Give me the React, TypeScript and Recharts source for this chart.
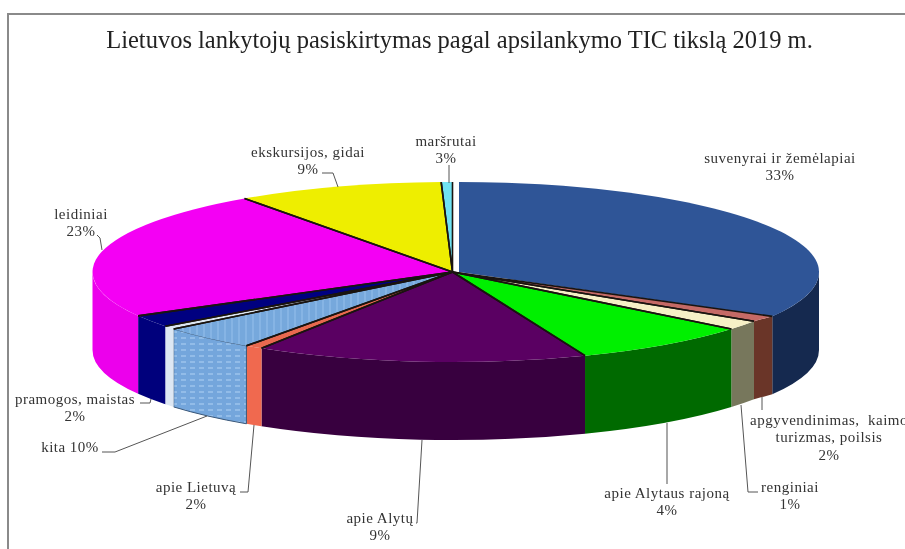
import React from "react";
import { PieChart, Pie } from "recharts";

const TITLE = "Lietuvos lankytojų pasiskirtymas pagal apsilankymo TIC tikslą 2019 m.";

// slice order runs clockwise from the top of the pie
const categories = [
  "suvenyrai ir žemėlapiai",
  "apgyvendinimas,  kaimo\nturizmas, poilsis",
  "renginiai",
  "apie Alytaus rajoną",
  "apie Alytų",
  "apie Lietuvą",
  "kita",
  "",
  "pramogos, maistas",
  "leidiniai",
  "ekskursijos, gidai",
  "maršrutai",
];
// share of the drawn circle
const drawnShares = [33.2, 1, 1.7, 8.1, 14.9, 0.8, 4.4, 0.6, 2.2, 23.3, 9.3, 0.5];
// percentages as printed in the labels
const printedPercents = ["33%", "2%", "1%", "4%", "9%", "2%", "10%", "", "2%", "23%", "9%", "3%"];

const topColors = [
  "#2f5597", "#c56a66", "#f6f0c6", "#00f000", "#5a0062", "#e8694f",
  "url(#kitaTop)", "#dde7f3", "#000080", "#f400f4", "#eeee00", "#70e2f2",
];
const wallColors = [
  "#15294f", "#6a3528", "#77775c", "#006a00", "#38003f", "#f0694f",
  "url(#kitaWall)", "#dde7f3", "#00007c", "#ec00ec", "#eeee00", "#70e2f2",
];

const labelLayout = [
  { x: 780, y: 163, leader: "" },
  { x: 829, y: 425, leader: "762,397 762,410" },
  { x: 790, y: 492, leader: "758,492 748,492 741,405" },
  { x: 667, y: 498, leader: "667,484 667,423" },
  { x: 380, y: 523, leader: "416,523 417,523 422,440" },
  { x: 196, y: 492, leader: "240,492 248,492 254,425" },
  { x: 70, y: 452, leader: "102,452 115,452 207,416", inline: true },
  { x: 0, y: 0, leader: "" },
  { x: 75, y: 404, leader: "140,403 150,403 151,399" },
  { x: 81, y: 219, leader: "97,235 100,238 102,250" },
  { x: 308, y: 157, leader: "322,173 333,173 338,187" },
  { x: 446, y: 146, leader: "449,165 449,183" },
];

const tableData = categories.map((name, idx) => ({ name, idx, share: drawnShares[idx] }));

const RX = 360;
const RY = 90;
const DEPTH = 78;
const EXPLODE_X = [6.5, 0, 0, 0, 0, 0, 0, 0, 0, 0, 0, 0];
// the slice after the pulled-out one reaches across to close the gap
const REACH_X = [0, 6.5, 0, 0, 0, 0, 0, 0, 0, 0, 0, 0];

// clockwise degrees from the top -> point on the ellipse
const rimPoint = (cx: number, cy: number, clock: number) => {
  const a = (clock * Math.PI) / 180;
  return [cx + RX * Math.sin(a), cy - RY * Math.cos(a)];
};

const rimPath = (end: number[], from: number, to: number) => {
  const large = to - from > 180 ? 1 : 0;
  return `A${RX} ${RY} 0 ${large} 1 ${end[0]} ${end[1]}`;
};

const WallShape = (props: any) => {
  const idx = props.payload.idx;
  const cx = props.cx + EXPLODE_X[idx];
  const from = Math.max(90 - props.startAngle, 90);
  const to = Math.min(90 - props.endAngle, 270);
  if (to <= from) return <g />;
  const a = rimPoint(cx + REACH_X[idx], props.cy, from);
  const b = rimPoint(cx, props.cy, to);
  const d =
    `M${a[0]} ${a[1]}` +
    rimPath(b, from, to) +
    `L${b[0]} ${b[1] + DEPTH}` +
    `A${RX} ${RY} 0 0 0 ${a[0]} ${a[1] + DEPTH}Z`;
  return <path d={d} fill={wallColors[idx]} stroke={idx === 6 ? "#3a5778" : "none"} strokeWidth={1} />;
};

const TopShape = (props: any) => {
  const idx = props.payload.idx;
  const cx = props.cx + EXPLODE_X[idx];
  const from = 90 - props.startAngle;
  const to = 90 - props.endAngle;
  const a = rimPoint(cx + REACH_X[idx], props.cy, from);
  const b = rimPoint(cx, props.cy, to);
  const d = `M${cx} ${props.cy}L${a[0]} ${a[1]}` + rimPath(b, from, to) + "Z";
  return <path d={d} fill={topColors[idx]} />;
};

const EdgeShape = (props: any) => {
  const idx = props.payload.idx;
  const cx = props.cx + EXPLODE_X[idx];
  const a = rimPoint(cx + REACH_X[idx], props.cy, 90 - props.startAngle);
  const b = rimPoint(cx, props.cy, 90 - props.endAngle);
  return (
    <path
      d={`M${a[0]} ${a[1]}L${cx} ${props.cy}L${b[0]} ${b[1]}`}
      fill="none"
      stroke={idx === 0 ? "none" : "#1a1410"}
      strokeWidth={1.6}
    />
  );
};

const renderLabel = (props: any) => {
  const idx = props.payload ? props.payload.idx : props.index;
  if (!categories[idx]) return null;
  const box = labelLayout[idx];
  const lines = categories[idx].split("\n");
  if (box.inline) lines[lines.length - 1] += " " + printedPercents[idx];
  else lines.push(printedPercents[idx]);
  return (
    <g key={idx}>
      {box.leader && (
        <polyline
          points={box.leader}
          fill="none"
          stroke={idx === 3 ? "#a8a8a8" : "#555"}
          strokeWidth={idx === 3 ? 2 : 1}
        />
      )}
      {lines.map((line, i) => (
        <text
          key={i}
          x={box.x}
          y={box.y + i * 17.4}
          textAnchor="middle"
          fontFamily="'Liberation Serif', serif"
          fontSize={15}
          letterSpacing={0.5}
          fill="#333"
          style={{ whiteSpace: "pre" }}
        >
          {line}
        </text>
      ))}
    </g>
  );
};

const App = () => {
  return (
    <div style={{ position: "absolute", left: 0, top: 0, width: 905, height: 549, overflow: "hidden", background: "#fff" }}>
      <div style={{ position: "absolute", left: 7, top: 13, width: 920, height: 560, borderLeft: "2px solid #8a8a8a", borderTop: "2px solid #8a8a8a" }} />
      <div style={{ position: "absolute", left: 0, top: 0, filter: "blur(0.45px)" }}>
        <PieChart width={905} height={549} margin={{ top: 0, right: 0, bottom: 0, left: 0 }}>
          <defs>
            <pattern id="kitaTop" width="7" height="7" patternUnits="userSpaceOnUse">
              <rect width="7" height="7" fill="#76a8dc" />
              <rect x="0" width="2" height="7" fill="#86b4e4" />
            </pattern>
            <pattern id="kitaWall" width="9" height="6" patternUnits="userSpaceOnUse">
              <rect width="9" height="6" fill="#74a6dc" />
              <rect x="1" y="1" width="5" height="2" fill="#92bce8" />
            </pattern>
          </defs>
          <text
            x={459.5}
            y={48}
            textAnchor="middle"
            fontFamily="'Liberation Serif', serif"
            fontSize={24.5}
            fill="#222"
          >
            {TITLE}
          </text>
          <Pie
            data={tableData}
            dataKey="share"
            cx={452.5}
            cy={272}
            outerRadius={RX}
            startAngle={90}
            endAngle={-270}
            isAnimationActive={false}
            shape={WallShape}
            stroke="none"
          />
          <Pie
            data={tableData}
            dataKey="share"
            cx={452.5}
            cy={272}
            outerRadius={RX}
            startAngle={90}
            endAngle={-270}
            isAnimationActive={false}
            shape={TopShape}
            stroke="none"
          />
          <Pie
            data={tableData}
            dataKey="share"
            cx={452.5}
            cy={272}
            outerRadius={RX}
            startAngle={90}
            endAngle={-270}
            isAnimationActive={false}
            shape={EdgeShape}
            stroke="none"
            label={renderLabel}
            labelLine={false}
          />
        </PieChart>
      </div>
    </div>
  );
};

export default App;
